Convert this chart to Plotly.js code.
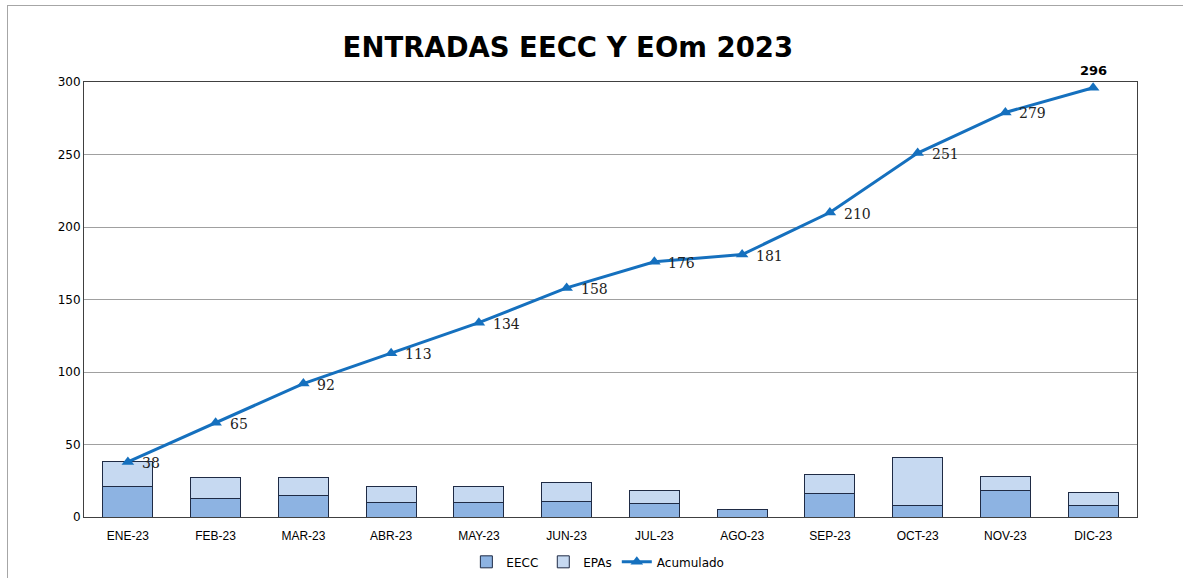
<!DOCTYPE html>
<html>
<head>
<meta charset="utf-8">
<script src="https://cdn.plot.ly/plotly-3.0.1.min.js"></script>
<style>
html,body{margin:0;padding:0;background:#fff;}
#frame{position:absolute;left:0;top:0;width:1183px;height:578px;}
#border{position:absolute;left:7px;top:5px;width:1176px;height:573px;border-left:1px solid #a6a6a6;border-top:1px solid #a6a6a6;box-sizing:border-box;pointer-events:none;}
#chart{position:absolute;left:0;top:0;width:1183px;height:578px;}
</style>
</head>
<body>
<div id="frame"><div id="chart"></div><div id="border"></div></div>
<script>
const categories = ["ENE-23","FEB-23","MAR-23","ABR-23","MAY-23","JUN-23","JUL-23","AGO-23","SEP-23","OCT-23","NOV-23","DIC-23"];
const eecc = [21, 13, 15, 10, 10, 11, 9, 5, 16, 8, 18, 8];
const epas = [17, 14, 12, 11, 11, 13, 9, 0, 13, 33, 10, 9];
const acumulado = [38, 65, 92, 113, 134, 158, 176, 181, 210, 251, 279, 296];
const yTicks = [0, 50, 100, 150, 200, 250, 300];

const lastIdx = acumulado.length - 1;

const lineLabels = categories.slice(0, lastIdx).map((c, i) => ({
  x: c, y: acumulado[i], xref: "x", yref: "y",
  text: String(acumulado[i]), showarrow: false,
  xanchor: "left", yanchor: "middle", xshift: 12, yshift: -1,
  font: {family: "DejaVu Serif, serif", size: 14, color: "#222"}
}));

const traces = [
  {
    type: "bar", name: "EECC", x: categories, y: eecc,
    marker: {color: "#8DB3E2", line: {color: "#1F2B45", width: 1}},
    hoverinfo: "x+y"
  },
  {
    type: "bar", name: "EPAs", x: categories, y: epas,
    marker: {color: "#C6D9F1", line: {color: "#1F2B45", width: 1}},
    hoverinfo: "x+y"
  },
  {
    type: "scatter", mode: "lines+markers", name: "Acumulado",
    x: categories, y: acumulado,
    line: {color: "#1570BE", width: 3},
    marker: {symbol: "triangle-up", size: 11, color: "#1570BE"}
  }
];

const layout = {
  width: 1183, height: 578,
  margin: {l: 84, r: 46, t: 82, b: 61},
  paper_bgcolor: "#fff", plot_bgcolor: "#fff",
  barmode: "stack", bargap: 0.43,
  title: {
    text: "ENTRADAS EECC Y EOm 2023",
    font: {family: "DejaVu Sans, sans-serif", size: 27.5, color: "#000", weight: "bold"},
    x: 0.48, xanchor: "center", y: 0.918, yanchor: "middle"
  },
  xaxis: {
    type: "category", range: [-0.5, 11.5], showgrid: false, zeroline: false,
    showline: true, linecolor: "#404040", linewidth: 1, mirror: true,
    ticks: "", ticklabelstandoff: 8,
    tickfont: {family: "Liberation Sans, Arial, sans-serif", size: 12, color: "#000"},
    automargin: false
  },
  yaxis: {
    range: [0, 300], tickvals: yTicks, ticktext: yTicks.map(String),
    showgrid: true, gridcolor: "#a0a0a0", gridwidth: 1, zeroline: false,
    showline: true, linecolor: "#404040", linewidth: 1, mirror: true,
    ticks: "", ticklen: 0, tickfont: {family: "DejaVu Sans, sans-serif", size: 12, color: "#000"},
    automargin: false
  },
  showlegend: true,
  legend: {
    orientation: "h", xref: "paper", x: 0.488, xanchor: "center",
    yref: "container", y: 0.028, yanchor: "middle",
    font: {family: "DejaVu Sans, sans-serif", size: 12, color: "#000"},
    traceorder: "normal", itemwidth: 30
  },
  annotations: lineLabels.concat([
    {
      x: categories[lastIdx], y: acumulado[lastIdx], xref: "x", yref: "y",
      text: "<b>" + acumulado[lastIdx] + "</b>", showarrow: false,
      yshift: 17, font: {family: "DejaVu Sans, sans-serif", size: 13, color: "#000"}
    }
  ])
};

Plotly.newPlot("chart", traces, layout, {displayModeBar: false, staticPlot: true});
</script>
</body>
</html>
